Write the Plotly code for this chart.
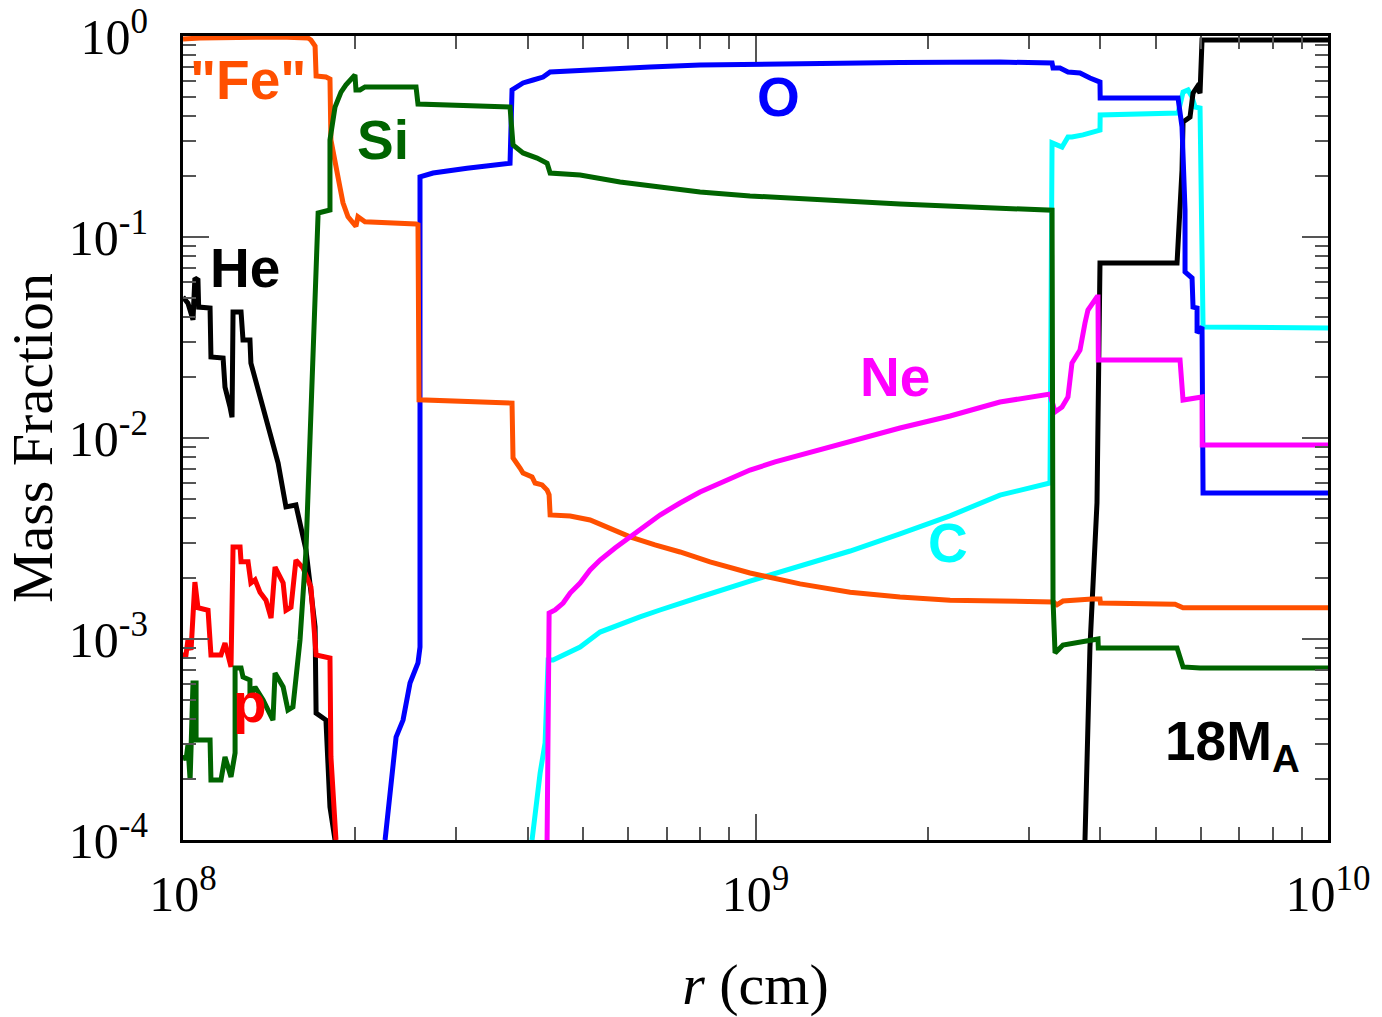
import plotly.graph_objects as go

R_UNIT = 1e8  # radii below are in units of 1e8 cm

fe_r = [1.000, 1.071, 1.477, 1.653, 1.673, 1.701, 1.708, 1.777, 1.806, 1.813, 1.880, 1.903, 1.942, 2.005, 2.021, 2.079,
        2.553, 2.573, 2.584, 3.438, 3.756, 3.771, 3.832, 3.879, 3.926, 4.071, 4.121, 4.239, 4.325, 4.360, 4.378, 4.745,
        5.141, 5.505, 6.038, 6.674, 7.383, 8.328, 9.781, 11.96, 14.63, 17.88, 21.87, 26.73, 33.09, 33.62, 34.44, 38.70,
        39.97, 40.05, 54.05, 55.82, 100.0]
fe_x = [0.966, 0.977, 0.989, 0.977, 0.955, 0.892, 0.632, 0.625, 0.611, 0.304, 0.177, 0.148, 0.126, 0.113, 0.126, 0.119,
        0.116, 0.115, 0.0155, 0.0151, 0.0149, 7.95e-3, 7.51e-3, 7.09e-3, 6.70e-3, 6.40e-3, 5.97e-3, 5.84e-3, 5.51e-3, 5.21e-3, 4.14e-3, 4.09e-3,
        3.91e-3, 3.61e-3, 3.22e-3, 2.94e-3, 2.71e-3, 2.42e-3, 2.13e-3, 1.88e-3, 1.71e-3, 1.62e-3, 1.56e-3, 1.545e-3, 1.53e-3, 1.48e-3, 1.545e-3, 1.58e-3,
        1.58e-3, 1.51e-3, 1.49e-3, 1.43e-3, 1.43e-3]

si_r = [1.004, 1.012, 1.020, 1.029, 1.041, 1.054, 1.054, 1.115, 1.119, 1.165, 1.184, 1.213, 1.233, 1.233, 1.263, 1.273,
        1.309, 1.309, 1.336, 1.380, 1.436, 1.448, 1.496, 1.525, 1.556, 1.601, 1.640, 1.687, 1.708, 1.722, 1.806, 1.806,
        1.843, 1.888, 1.926, 1.997, 2.005, 2.038, 2.079, 2.553, 2.573, 3.726, 3.771, 3.926, 4.154, 4.325, 4.378, 4.939,
        5.800, 6.542, 8.000, 9.781, 11.96, 17.88, 26.73, 32.96, 33.09, 33.36, 34.44, 39.65, 39.70, 54.49, 55.82, 59.77, 100.0]
si_x = [2.65e-4, 2.50e-4, 2.97e-4, 1.99e-4, 6.04e-4, 6.04e-4, 3.14e-4, 3.14e-4, 1.99e-4, 1.99e-4, 2.59e-4, 2.06e-4, 2.71e-4, 7.17e-4, 7.17e-4, 6.47e-4,
        6.25e-4, 5.14e-4, 5.77e-4, 4.97e-4, 3.95e-4, 6.77e-4, 5.77e-4, 4.43e-4, 4.59e-4, 9.89e-4, 2.77e-3, 0.0274, 0.0861, 0.1316, 0.1362, 0.304,
        0.443, 0.526, 0.571, 0.640, 0.539, 0.539, 0.558, 0.558, 0.459, 0.443, 0.287, 0.262, 0.247, 0.233, 0.208, 0.2035,
        0.1878, 0.1794, 0.1674, 0.160, 0.1545, 0.146, 0.139, 0.136, 1.56e-3, 8.52e-4, 9.34e-4, 1.00e-3, 9.02e-4, 9.02e-4, 7.26e-4, 7.17e-4, 7.17e-4]

o_r = [2.254, 2.300, 2.356, 2.423, 2.492, 2.573, 2.594, 2.594, 2.734, 3.134, 3.726, 3.756, 3.832, 3.926, 4.088, 4.256,
       4.378, 5.352, 6.542, 8.000, 11.96, 17.88, 26.73, 32.96, 33.09, 34.03, 35.14, 36.88, 38.39, 39.97, 40.00, 54.71,
       55.59, 56.27, 56.27, 57.88, 58.11, 59.06, 59.06, 60.25, 60.50, 100.0]
o_x = [1e-4, 1.77e-4, 3.25e-4, 3.95e-4, 6.04e-4, 7.60e-4, 9.12e-4, 0.199, 0.208, 0.220, 0.233, 0.539, 0.558, 0.584, 0.604, 0.625,
       0.662, 0.685, 0.701, 0.717, 0.730, 0.738, 0.742, 0.734, 0.693, 0.693, 0.662, 0.655, 0.618, 0.590, 0.491, 0.491,
       0.353, 0.136, 0.0670, 0.0625, 0.0448, 0.0443, 0.0333, 0.0357, 5.33e-3, 5.33e-3]

c_r = [4.071, 4.205, 4.290, 4.343, 4.431, 4.688, 4.939, 5.352, 5.800, 6.284, 6.810, 7.383, 8.000, 9.781, 11.96, 14.63,
       17.88, 21.87, 26.73, 32.69, 32.96, 34.31, 35.14, 35.71, 37.33, 39.97, 40.00, 54.71, 55.82, 56.95, 57.88, 58.58,
       59.77, 60.50, 100.0]
c_x = [1e-4, 2.15e-4, 3.04e-4, 7.86e-4, 7.86e-4, 8.52e-4, 9.12e-4, 1.083e-3, 1.187e-3, 1.287e-3, 1.394e-3, 1.510e-3, 1.618e-3, 1.943e-3, 2.307e-3, 2.740e-3,
       3.330e-3, 4.10e-3, 5.2e-3, 5.97e-3, 0.294, 0.280, 0.3145, 0.3145, 0.322, 0.3405, 0.4046, 0.414, 0.526, 0.539, 0.497, 0.443,
       0.438, 0.0357, 0.0353]

ne_r = [4.325, 4.360, 4.467, 4.613, 4.745, 4.939, 5.141, 5.352, 5.684, 6.038, 6.412, 6.810, 7.383, 8.000, 8.845, 9.781,
        10.82, 11.96, 14.63, 17.88, 21.87, 26.73, 32.69, 33.36, 34.31, 35.14, 35.71, 36.88, 37.63, 38.08, 39.49, 39.65,
        39.70, 55.15, 55.82, 59.06, 60.25, 60.30, 100.0]
ne_x = [1e-4, 1.347e-3, 1.394e-3, 1.510e-3, 1.694e-3, 1.899e-3, 2.204e-3, 2.472e-3, 2.836e-3, 3.217e-3, 3.65e-3, 4.139e-3, 4.75e-3, 5.385e-3, 6.11e-3, 6.93e-3,
        7.60e-3, 8.23e-3, 9.66e-3, 0.01121, 0.01287, 0.01510, 0.01656, 0.01347, 0.01426, 0.01600, 0.02360, 0.02740, 0.03733, 0.04333, 0.05028, 0.0503,
        0.02443, 0.02443, 0.01545, 0.01581, 0.0160, 9.23e-3, 9.23e-3]

he_r = [1.000, 1.020, 1.041, 1.049, 1.062, 1.065, 1.115, 1.119, 1.175, 1.184, 1.208, 1.218, 1.223, 1.263, 1.273, 1.309,
        1.314, 1.380, 1.436, 1.466, 1.513, 1.575, 1.640, 1.667, 1.701, 1.708, 1.777, 1.806, 1.843, None,
        37.63, 38.39, 39.49, 39.65, 39.97, 54.49, 55.59, 55.82, 57.41, 58.11, 59.06, 59.77, 60.25, 100.0]
he_x = [0.0503, 0.0469, 0.0387, 0.0625, 0.0611, 0.0448, 0.0443, 0.0253, 0.0250, 0.0179, 0.0143, 0.0127, 0.0424, 0.0424, 0.0307, 0.0307,
        0.0236, 0.0138, 9.44e-3, 7.51e-3, 4.54e-3, 4.64e-3, 2.77e-3, 1.90e-3, 1.147e-3, 4.28e-4, 3.95e-4, 1.46e-4, 1e-4, None,
        1e-4, 9.12e-4, 4.75e-3, 0.0138, 0.0742, 0.0742, 0.215, 0.373, 0.395, 0.520, 0.557, 0.520, 0.955, 0.955]

p_r = [1.000, 1.012, 1.020, 1.033, 1.049, 1.062, 1.106, 1.119, 1.165, 1.184, 1.213, 1.223, 1.258, 1.263, 1.299, 1.314,
       1.336, 1.363, 1.396, 1.425, 1.448, 1.496, 1.513, 1.544, 1.575, 1.620, 1.673, 1.708, 1.806, 1.813, 1.850]
p_x = [8.33e-4, 8.33e-4, 9.89e-4, 8.82e-4, 1.92e-3, 1.43e-3, 1.39e-3, 8.33e-4, 8.33e-4, 9.55e-4, 7.26e-4, 2.87e-3, 2.87e-3, 2.42e-3, 2.42e-3, 1.90e-3,
       1.97e-3, 1.71e-3, 1.56e-3, 1.27e-3, 2.28e-3, 1.90e-3, 1.39e-3, 1.44e-3, 2.47e-3, 2.26e-3, 1.81e-3, 8.33e-4, 8.04e-4, 2.59e-4, 1e-4]

x_tickvals = [1e8, 1e9, 1e10]
x_ticktext = ["10<sup>8</sup>", "10<sup>9</sup>", "10<sup>10</sup>"]
y_tickvals = [1e-4, 1e-3, 1e-2, 1e-1, 1e0]
y_ticktext = ["10<sup>-4</sup>", "10<sup>-3</sup>", "10<sup>-2</sup>", "10<sup>-1</sup>", "10<sup>0</sup>"]

# (name, r list, X list, colour) in drawing order
species = [
    ("C", c_r, c_x, "#00FFFF"),
    ("He", he_r, he_x, "#000000"),
    ("O", o_r, o_x, "#0000FF"),
    ("Fe", fe_r, fe_x, "#FF5000"),
    ("Ne", ne_r, ne_x, "#FF00FF"),
    ("p", p_r, p_x, "#FF0000"),
    ("Si", si_r, si_x, "#006400"),
]

fig = go.Figure()
for name, rr, xx, col in species:
    fig.add_trace(go.Scatter(
        x=[None if v is None else v * R_UNIT for v in rr], y=xx,
        mode="lines", name=name, connectgaps=False,
        line=dict(color=col, width=5), showlegend=False, hoverinfo="skip"))

labels = [
    ('<b>"Fe"</b>', 0.0568, 0.9453, "#FF5000", "center"),
    ("<b>Si</b>", 0.1747, 0.8706, "#006400", "center"),
    ("<b>O</b>", 0.5197, 0.9241, "#0000FF", "center"),
    ("<b>He</b>", 0.0541, 0.7114, "#000000", "center"),
    ("<b>Ne</b>", 0.6218, 0.5759, "#FF00FF", "center"),
    ("<b>C</b>", 0.6681, 0.3694, "#00FFFF", "center"),
    ("<b>p</b>", 0.0585, 0.1700, "#FF0000", "center"),
    ("<b>18M<sub>A</sub></b>", 0.9773, 0.118, "#000000", "right"),
]
for txt, xp, yp, col, xa in labels:
    fig.add_annotation(text=txt, x=xp, y=yp, xref="paper", yref="paper",
                       xanchor=xa, yanchor="middle", showarrow=False,
                       font=dict(family="Liberation Sans, Arial, sans-serif", size=55, color=col))

tick_font = dict(family="Liberation Serif, Times New Roman, serif", size=50, color="black")
title_font = dict(family="Liberation Serif, Times New Roman, serif", size=58, color="black")
minor = dict(ticks="inside", ticklen=13, tickwidth=2, tickcolor="#555555", dtick="D1", showgrid=False)

fig.update_xaxes(type="log", range=[8, 10], showline=True, linecolor="black", linewidth=3, mirror="allticks",
                 ticks="inside", ticklen=26, tickwidth=2, tickcolor="#555555",
                 tickvals=x_tickvals, ticktext=x_ticktext, tickfont=tick_font, ticklabelstandoff=8,
                 showgrid=False, zeroline=False, minor=minor,
                 title=dict(text="<i>r</i> (cm)", font=title_font, standoff=45))
fig.update_yaxes(type="log", range=[-4, 0], showline=True, linecolor="black", linewidth=3, mirror="allticks",
                 ticks="inside", ticklen=26, tickwidth=2, tickcolor="#555555",
                 tickvals=y_tickvals, ticktext=y_ticktext, tickfont=tick_font, ticklabelstandoff=22,
                 showgrid=False, zeroline=False, minor=minor,
                 title=dict(text="Mass Fraction", font=title_font, standoff=0))

fig.update_layout(width=1382, height=1017, margin=dict(l=183, r=54, t=36, b=177, autoexpand=False),
                  paper_bgcolor="white", plot_bgcolor="white")

fig.write_html("out.html")
